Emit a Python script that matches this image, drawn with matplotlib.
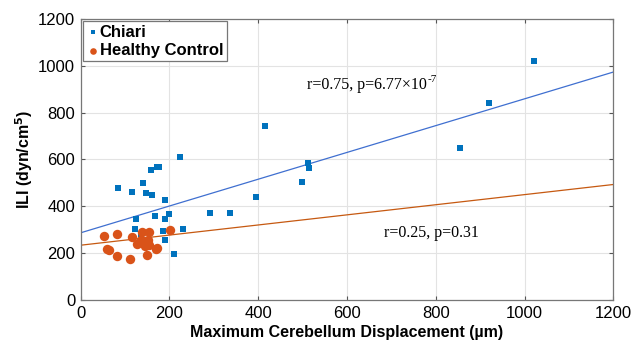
import matplotlib
matplotlib.use("Agg")
import matplotlib.pyplot as plt
import numpy as np

# Chiari data (x: max cerebellum displacement in um, y: ILI)
chiari_x = [223, 158, 171, 176, 85, 116, 141, 147, 161, 189, 125, 167, 190, 198,
            291, 336, 122, 135, 186, 231, 189, 145, 210, 395, 416, 499, 512, 515,
            855, 920, 1022]
chiari_y = [609, 555, 568, 568, 480, 461, 498, 457, 447, 427, 345, 359, 347, 369,
            371, 373, 303, 281, 294, 305, 257, 231, 195, 441, 744, 503, 584, 565,
            649, 841, 1019]

# Healthy control data
hc_x = [52, 82, 64, 82, 110, 116, 138, 154, 126, 136, 151, 145, 154, 149, 170, 201,
        60, 141, 172]
hc_y = [274, 282, 212, 190, 177, 269, 292, 290, 241, 257, 255, 231, 236, 193, 217, 298,
        216, 243, 224]

# Linear fits (intercept, slope)
chiari_fit = (287, 0.572)
hc_fit = (234, 0.216)

x_ticks = [0, 200, 400, 600, 800, 1000, 1200]
y_ticks = [0, 200, 400, 600, 800, 1000, 1200]

blue = '#0072BD'
orange = '#D95319'

fig = plt.figure(figsize=(6.44, 3.49), dpi=100)
ax = fig.add_axes([0.1253, 0.1404, 0.8270, 0.8052])

xl = np.array([0, 1200])
ax.plot(xl, chiari_fit[0] + chiari_fit[1] * xl, color='#3F6FD0', lw=0.9, zorder=2)
ax.plot(xl, hc_fit[0] + hc_fit[1] * xl, color='#C65911', lw=0.9, zorder=2)

ax.scatter(chiari_x, chiari_y, marker='s', s=20, color=blue, linewidths=0,
           label='Chiari', zorder=3)
ax.scatter(hc_x, hc_y, marker='o', s=46, color=orange, linewidths=0,
           label='Healthy Control', zorder=3)

ax.set_xlim(0, 1200)
ax.set_ylim(0, 1200)
ax.set_xticks(x_ticks)
ax.set_yticks(y_ticks)
ax.tick_params(direction='in', length=3, top=True, right=True, labelsize=12,
               color='#555555', pad=4)
for lab in ax.get_xticklabels() + ax.get_yticklabels():
    lab.set_fontfamily('Liberation Sans')
ax.grid(True, color='#E3E3E3', lw=0.8)
ax.set_axisbelow(True)
for sp in ax.spines.values():
    sp.set_color('#777777')
    sp.set_linewidth(0.9)

ax.set_xlabel('Maximum Cerebellum Displacement (µm)', fontsize=11.5, fontweight='bold',
              family='Liberation Sans', labelpad=3)
ax.set_ylabel('ILI (dyn/cm$^\\mathbf{5}$)', fontsize=11.5, fontweight='bold',
              family='Liberation Sans', labelpad=2)

t1 = ax.text(510, 918, 'r=0.75, p=6.77×10', family='Liberation Serif', fontsize=11.5,
             va='center', ha='left')
ax.annotate('-7', xy=(1, 1), xycoords=t1, xytext=(0.5, 1.5), textcoords='offset points',
            family='Liberation Serif', fontsize=8, va='top', ha='left')
ax.text(683, 285, 'r=0.25, p=0.31', family='Liberation Serif', fontsize=11.5,
        va='center', ha='left')

leg = ax.legend(loc='upper left', prop={'family': 'Liberation Sans', 'weight': 'bold', 'size': 12},
                handletextpad=0.0, handlelength=0.8, borderpad=0.2, labelspacing=0.2,
                fancybox=False, framealpha=1, edgecolor='#777777', borderaxespad=0.15,
                markerscale=0.7)
leg.get_frame().set_linewidth(0.9)

fig.savefig('out.png', dpi=100)
